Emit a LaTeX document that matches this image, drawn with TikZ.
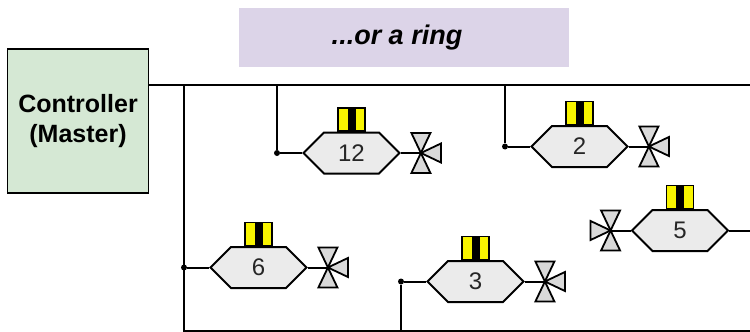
\documentclass[tikz,border=0pt]{standalone}
\usepackage{fontspec}
\setmainfont{Liberation Sans}
\usetikzlibrary{shapes.symbols}
\definecolor{ctrlgreen}{HTML}{D5E8D4}
\definecolor{titlelilac}{HTML}{DCD4E8}
\definecolor{hexgray}{HTML}{EBEBEB}
\definecolor{valvegray}{HTML}{D9D9D9}
\definecolor{sensoryellow}{HTML}{F8F400}
\tikzset{
	bus/.style = {line width = 2pt},
	device/.style = {shape = signal, signal to = west and east, signal pointer angle = 90, draw, line width = 2pt, fill = hexgray, minimum width = 96pt, minimum height = 41pt, inner sep = 0pt, font = \fontsize{24}{28}\selectfont, text = black!85},
	sensor/.style = {draw, line width = 1.5pt, fill = sensoryellow, minimum width = 27pt, minimum height = 23pt, inner sep = 0pt, anchor = south,
		path picture = {\fill[black] ([xshift = -4pt]path picture bounding box.south) rectangle ([xshift = 4pt]path picture bounding box.north);}},
	joint/.style = {circle, fill = black, inner sep = 0pt, minimum size = 6pt},
	valve/.pic = {
		\draw[line width = 1.8pt, fill = valvegray, line join = miter] (-9.5,-20) -- (9.5,-20) -- (0,0) -- cycle;
		\draw[line width = 1.8pt, fill = valvegray, line join = miter] (-9.5,20) -- (9.5,20) -- (0,0) -- cycle;
		\draw[line width = 1.8pt, fill = valvegray, line join = miter] (0,0) -- (20,-9.5) -- (20,9.5) -- cycle;
	}
}
\begin{document}
\begin{tikzpicture}[x = 1pt, y = -1pt]
		\useasboundingbox (0,0) rectangle (750,332);
		\node[fill = titlelilac, minimum width = 330pt, minimum height = 59pt, inner sep = 0pt, font = \fontsize{27}{30}\selectfont\bfseries\itshape] (title) at (404,37.5) {...or a ring\hspace*{14pt}};
		\node[draw, line width = 1.8pt, fill = ctrlgreen, minimum width = 141pt, minimum height = 144pt, inner sep = 0pt, align = center, font = \fontsize{25}{30}\selectfont\bfseries] (ctrl) at (78,121) {Controller\\(Master)};
		\coordinate (ringTL) at (184,85);
		\coordinate (ringBL) at (184,331);
		\coordinate (ringTR) at (751,85);
		\coordinate (ringBR) at (751,331);
		\draw[bus] (ctrl.east |- ringTL) -- (ringTR);
		\draw[bus] (ringTL) -- (ringBL) -- (ringBR);
		\node[device] (dev12) at (351.5,153) {12};
		\node[device] (dev2) at (579.5,146.5) {2};
		\node[device] (dev5) at (680,230.5) {5};
		\node[device] (dev6) at (258.5,267.5) {6};
		\node[device] (dev3) at (475.5,281.5) {3};
		\foreach \d in {12,2,5,6,3}
			\node[sensor] (sens\d) at (dev\d.north) {};
		\node[joint] (j12) at (277,153) {};
		\node[joint] (j2) at (505,146.5) {};
		\node[joint] (j6) at (184,267.5) {};
		\node[joint] (j3) at (401,281.5) {};
		\draw[bus] (dev12.west) -- (j12) -- (j12 |- ringTL);
		\draw[bus] (dev2.west) -- (j2) -- (j2 |- ringTL);
		\draw[bus] (dev6.west) -- (j6);
		\draw[bus] (dev3.west) -- (j3) -- (j3 |- ringBL);
		\draw[bus] (dev5.east) -- (dev5.east -| ringTR);
		\foreach \d in {12,2,6,3} {
			\coordinate (v\d) at ([xshift = 20pt]dev\d.east);
			\draw[bus] (dev\d.east) -- (v\d);
			\pic at (v\d) {valve};
		}
		\coordinate (v5) at ([xshift = -20pt]dev5.west);
		\draw[bus] (dev5.west) -- (v5);
		\pic[xscale = -1] at (v5) {valve};
	\end{tikzpicture}
\end{document}
